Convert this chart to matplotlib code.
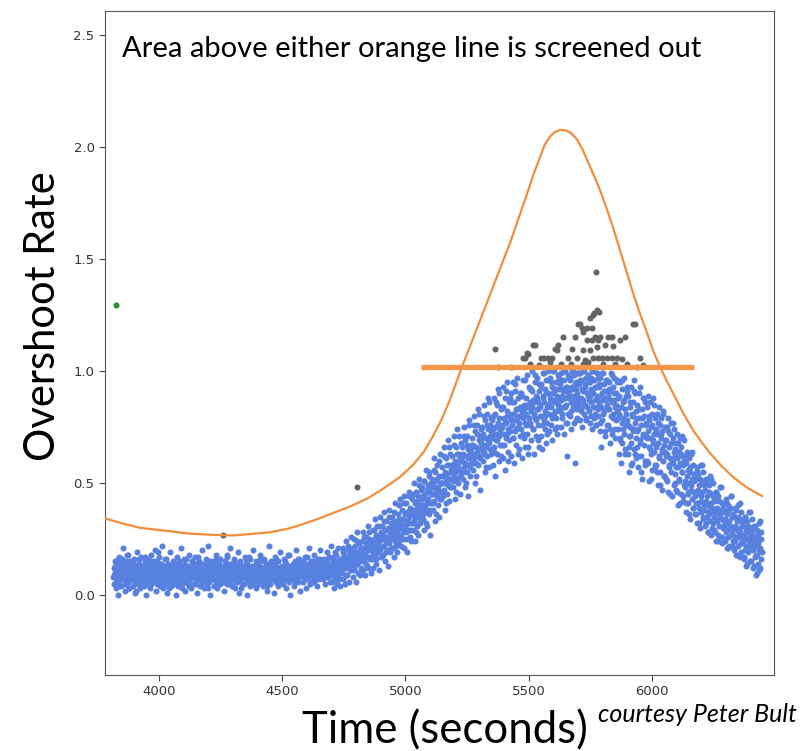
import numpy as np
import matplotlib.pyplot as plt

# overshoot rate (x100), even-second samples, split by phase of the run
flat_rate = [
    8, 12, 5, 15, 10, 3, 9, 14, 7, 11, 0, 17, 6, 10, 13, 4, 9, 16, 8, 12,
    21, 7, 11, 2, 14, 9, 5, 12, 18, 6, 10, 13, 3, 8, 15, 11, 7, 9, 14, 4,
    10, 16, 6, 12, 1, 9, 13, 7, 19, 11, 5, 8, 14, 10, 3, 12, 17, 6, 9, 11,
    13, 4, 10, 15, 8, 0, 12, 6, 9, 16, 11, 7, 14, 3, 10, 18, 5, 12, 8, 13,
    6, 11, 9, 20, 7, 13, 2, 10, 15, 5, 12, 8, 17, 9, 4, 11, 14, 6, 10, 22,
    9, 3, 13, 7, 11, 16, 5, 10, 12, 1, 8, 14, 6, 11, 19, 9, 4, 13, 10, 7,
    12, 15, 8, 5, 10, 13, 0, 9, 17, 7, 11, 4, 14, 10, 6, 12, 8, 21, 11, 3,
    10, 7, 14, 9, 2, 12, 16, 6, 11, 8, 13, 5, 10, 18, 7, 12, 3, 9, 15, 11,
    5, 13, 10, 8, 17, 11, 6, 14, 1, 9, 12, 7, 15, 10, 4, 13, 8, 11, 20, 6,
    14, 9, 3, 12, 10, 7, 16, 11, 5, 13, 8, 22, 10, 6, 12, 0, 9, 14, 11, 7,
    8, 12, 15, 4, 10, 13, 9, 6, 18, 11, 3, 14, 7, 10, 12, 5, 16, 9, 11, 8,
    11, 6, 13, 9, 2, 15, 10, 7, 12, 17, 5, 9, 14, 8, 11, 21, 6, 10, 13, 4,
    9, 14, 7, 11, 16, 3, 12, 8, 10, 6, 13, 19, 9, 1, 11, 15, 7, 12, 10, 5,
    13, 8, 10, 5, 12, 9, 17, 6, 11, 14, 0, 10, 7, 13, 9, 4, 16, 11, 8, 12,
    6, 11, 20, 9, 13, 7, 10, 3, 15, 12, 8, 11, 5, 14, 10, 18, 9, 6, 12, 10,
    10, 4, 12, 16, 8, 11, 6, 13, 9, 2, 14, 10, 7, 12, 22, 9, 5, 11, 15, 8,
    12, 9, 7, 14, 10, 1, 11, 17, 6, 13, 9, 10, 4, 15, 8, 12, 11, 19, 7, 10,
    8, 13, 11, 5, 16, 10, 9, 12, 3, 14, 7, 11, 18, 10, 6, 13, 9, 0, 12, 11,
    11, 7, 14, 10, 12, 4, 15, 9, 11, 20, 8, 13, 6, 10, 16, 12, 2, 11, 14, 9,
    13, 10, 6, 15, 11, 9, 17, 7, 12, 3, 14, 10, 12, 8, 21, 11, 5, 13, 10, 15,
    10, 14, 8, 12, 18, 6, 11, 13, 9, 15, 4, 12, 10, 16, 7, 13, 11, 20, 9, 12,
    14, 9, 12, 7, 16, 11, 13, 5, 15, 10, 19, 12, 8, 14, 11, 17, 6, 13, 22, 12,
]
rise_rate = [
    12, 6, 17, 9, 14, 3, 11, 19, 8, 13, 5, 15, 10, 21, 7, 12, 16, 4, 11, 14,
    16, 10, 21, 7, 14, 18, 5, 12, 24, 15, 9, 17, 13, 20, 6, 15, 11, 19, 14, 26,
    13, 20, 8, 17, 25, 11, 15, 22, 6, 18, 14, 28, 10, 19, 16, 23, 9, 17, 21, 12,
    19, 24, 11, 28, 15, 21, 9, 18, 26, 14, 22, 17, 31, 12, 20, 25, 16, 23, 10, 21,
    22, 16, 29, 12, 25, 20, 34, 18, 27, 14, 23, 31, 19, 26, 11, 24, 21, 35, 17, 28,
    25, 31, 18, 27, 37, 22, 15, 29, 24, 33, 20, 26, 13, 30, 23, 38, 27, 19, 32, 25,
    28, 35, 21, 30, 17, 33, 26, 41, 23, 31, 29, 19, 36, 27, 34, 24, 43, 30, 22, 32,
    30, 38, 25, 34, 44, 21, 36, 31, 28, 41, 33, 19, 37, 29, 46, 35, 26, 39, 32, 24,
    36, 43, 29, 38, 50, 33, 24, 41, 37, 46, 31, 39, 27, 44, 35, 52, 40, 32, 47, 38,
    40, 48, 34, 44, 29, 51, 39, 45, 56, 37, 42, 31, 49, 43, 36, 53, 46, 27, 41, 50,
    45, 52, 38, 49, 61, 42, 55, 33, 47, 51, 44, 58, 40, 48, 35, 53, 46, 63, 43, 50,
    50, 57, 44, 53, 66, 47, 38, 55, 51, 61, 45, 54, 69, 49, 58, 42, 52, 63, 56, 48,
    55, 62, 48, 58, 71, 53, 60, 43, 57, 66, 52, 74, 59, 50, 63, 56, 45, 61, 68, 54,
    60, 66, 52, 63, 75, 57, 69, 48, 62, 58, 71, 55, 65, 44, 61, 78, 64, 53, 67, 59,
    63, 70, 56, 67, 80, 61, 73, 50, 66, 59, 76, 64, 83, 58, 69, 62, 47, 71, 65, 74,
    67, 75, 60, 72, 85, 64, 78, 55, 70, 66, 81, 62, 74, 88, 68, 57, 76, 71, 63, 79,
]
peak_rate = [
    70, 78, 58, 74, 88, 66, 81, 53, 72, 69, 85, 63, 76, 92, 71, 60, 79, 74, 67, 83,
    84, 67, 75, 93, 61, 79, 72, 88, 56, 77, 70, 82, 95, 64, 74, 86, 69, 80, 73, 90,
    62, 81, 76, 95, 70, 86, 59, 78, 91, 73, 83, 67, 79, 97, 75, 88, 65, 80, 71, 84,
    90, 74, 82, 61, 79, 96, 70, 85, 77, 66, 88, 81, 98, 72, 84, 63, 79, 93, 76, 86,
    77, 92, 69, 84, 100, 74, 87, 63, 81, 95, 79, 89, 71, 83, 97, 76, 86, 66, 91, 80,
    85, 71, 94, 80, 65, 89, 99, 78, 86, 74, 92, 82, 68, 96, 84, 77, 90, 100, 81, 73,
    88, 97, 76, 84, 93, 69, 87, 100, 81, 91, 74, 86, 95, 79, 89, 72, 98, 85, 83, 92,
    82, 94, 87, 75, 99, 89, 79, 92, 84, 96, 72, 88, 100, 85, 77, 93, 62, 90, 81, 97,
    91, 80, 96, 86, 74, 93, 100, 84, 89, 77, 98, 87, 59, 92, 83, 95, 79, 88, 99, 85,
    86, 94, 78, 99, 88, 83, 96, 75, 91, 87, 100, 81, 93, 85, 97, 79, 90, 84, 98, 89,
    95, 82, 89, 77, 97, 86, 92, 74, 100, 84, 90, 79, 96, 87, 81, 93, 76, 88, 99, 83,
    80, 93, 86, 73, 97, 84, 66, 90, 78, 99, 87, 82, 94, 71, 88, 96, 83, 76, 91, 85,
    89, 76, 95, 83, 68, 91, 80, 99, 86, 72, 93, 81, 87, 97, 74, 84, 90, 78, 96, 82,
    74, 88, 63, 81, 95, 70, 84, 59, 77, 92, 68, 86, 79, 97, 72, 83, 65, 89, 76, 91,
]
fall_rate = [
    78, 63, 89, 71, 55, 84, 75, 93, 68, 80, 59, 86, 73, 96, 65, 77, 90, 70, 82, 61,
    66, 85, 74, 57, 90, 79, 69, 93, 62, 76, 83, 52, 72, 88, 67, 80, 58, 86, 71, 77,
    84, 60, 73, 89, 66, 78, 51, 70, 86, 63, 75, 81, 56, 69, 88, 72, 64, 79, 58, 74,
    58, 72, 81, 49, 68, 84, 62, 76, 55, 70, 79, 65, 47, 73, 60, 82, 67, 53, 75, 64,
    69, 52, 75, 63, 79, 46, 66, 58, 72, 61, 77, 55, 68, 44, 70, 59, 74, 64, 50, 62,
    54, 68, 47, 61, 72, 57, 40, 64, 51, 70, 59, 45, 66, 55, 62, 42, 58, 69, 49, 60,
    48, 59, 37, 53, 64, 45, 56, 41, 61, 50, 34, 55, 47, 63, 52, 43, 58, 39, 51, 46,
    44, 36, 52, 41, 57, 32, 47, 54, 39, 49, 30, 45, 58, 42, 37, 51, 46, 34, 55, 40,
    38, 47, 31, 42, 52, 35, 44, 28, 40, 49, 36, 53, 33, 41, 27, 45, 39, 50, 32, 43,
    35, 29, 42, 37, 24, 46, 33, 39, 27, 44, 31, 36, 48, 26, 38, 34, 41, 23, 37, 30,
    31, 38, 25, 34, 43, 28, 21, 36, 32, 40, 26, 33, 22, 39, 30, 44, 27, 35, 29, 24,
    27, 35, 20, 31, 24, 38, 18, 29, 33, 22, 40, 26, 30, 17, 34, 28, 23, 37, 25, 32,
    23, 31, 16, 27, 35, 20, 29, 13, 25, 33, 19, 28, 37, 22, 26, 15, 30, 24, 21, 34,
    20, 27, 12, 24, 31, 17, 22, 9, 26, 18, 29, 14, 23, 32, 11, 21, 25, 16, 28, 19,
]

# interleaved odd-second samples (x100), same phases
flat_rate_odd = [
    9, 13, 6, 11, 16, 4, 10, 14, 7, 12, 11, 5, 15, 8, 12, 18, 3, 10, 13, 9,
    7, 14, 10, 2, 12, 9, 16, 6, 11, 13, 12, 8, 17, 10, 5, 13, 9, 15, 11, 6,
    10, 15, 7, 12, 9, 19, 6, 11, 14, 8, 13, 6, 11, 16, 8, 10, 3, 12, 9, 14,
    8, 12, 9, 14, 11, 6, 15, 10, 13, 5, 11, 16, 7, 10, 13, 9, 4, 12, 8, 15,
    14, 8, 12, 5, 10, 17, 11, 7, 13, 9, 6, 11, 14, 9, 12, 3, 10, 15, 8, 12,
    10, 13, 8, 16, 7, 11, 14, 6, 12, 9, 12, 7, 10, 13, 18, 9, 5, 11, 14, 10,
    9, 15, 11, 6, 12, 14, 8, 10, 3, 13, 11, 8, 13, 10, 15, 7, 12, 17, 9, 6,
    13, 10, 5, 12, 9, 14, 11, 7, 16, 10, 8, 12, 15, 9, 11, 4, 13, 10, 12, 14,
    10, 14, 7, 13, 16, 10, 8, 12, 6, 11, 12, 9, 11, 15, 7, 13, 10, 18, 9, 12,
    9, 13, 10, 6, 14, 11, 16, 8, 12, 10, 14, 11, 8, 12, 10, 17, 9, 13, 6, 11,
    11, 15, 9, 13, 7, 12, 14, 10, 16, 9, 13, 10, 14, 8, 12, 15, 11, 17, 10, 13,
]
rise_rate_odd = [
    10, 15, 7, 13, 18, 11, 8, 14, 12, 16, 14, 19, 12, 17, 9, 15, 22, 13, 18, 11,
    16, 21, 12, 19, 14, 24, 17, 10, 20, 15, 21, 16, 26, 18, 23, 13, 20, 28, 17, 22,
    24, 19, 29, 21, 16, 26, 22, 31, 20, 25, 27, 22, 33, 25, 19, 29, 24, 35, 28, 21,
    30, 25, 37, 28, 22, 33, 27, 40, 31, 26, 34, 28, 41, 31, 25, 37, 32, 44, 29, 36,
    38, 32, 45, 35, 28, 42, 37, 49, 33, 40, 43, 36, 51, 40, 32, 47, 41, 55, 38, 45,
    48, 41, 56, 45, 36, 52, 47, 60, 43, 50, 53, 46, 62, 50, 41, 58, 52, 66, 48, 55,
    58, 51, 67, 55, 46, 63, 57, 71, 53, 60, 62, 55, 71, 59, 50, 67, 61, 76, 57, 64,
    66, 59, 76, 63, 53, 72, 65, 81, 61, 68, 70, 63, 80, 67, 57, 76, 69, 86, 65, 73,
]
peak_rate_odd = [
    71, 80, 64, 75, 86, 69, 77, 90, 73, 62, 76, 84, 67, 78, 91, 72, 80, 60, 74, 88,
    78, 86, 70, 81, 94, 74, 83, 63, 77, 90, 80, 89, 72, 83, 96, 76, 85, 66, 79, 92,
    82, 91, 74, 86, 98, 78, 88, 69, 83, 94, 84, 93, 76, 88, 99, 80, 90, 72, 85, 96,
    86, 95, 79, 90, 100, 82, 92, 75, 87, 97, 87, 96, 81, 91, 100, 84, 93, 77, 89, 98,
    88, 97, 82, 92, 100, 85, 94, 78, 90, 99, 88, 96, 82, 92, 100, 85, 94, 78, 90, 98,
    87, 95, 80, 91, 100, 84, 93, 76, 89, 97, 85, 94, 77, 89, 99, 81, 91, 73, 87, 96,
    83, 92, 74, 87, 98, 79, 90, 70, 85, 95, 79, 89, 69, 84, 96, 74, 87, 63, 81, 93,
]
fall_rate_odd = [
    76, 66, 86, 71, 58, 81, 74, 91, 63, 79, 73, 62, 83, 68, 55, 79, 71, 88, 60, 76,
    70, 59, 80, 65, 52, 76, 68, 85, 57, 73, 66, 55, 77, 61, 49, 72, 64, 81, 53, 69,
    62, 51, 73, 57, 45, 68, 60, 77, 49, 65, 57, 46, 68, 52, 41, 63, 55, 71, 44, 60,
    51, 41, 62, 46, 36, 57, 49, 64, 39, 54, 46, 36, 56, 41, 32, 52, 44, 58, 35, 49,
    41, 32, 50, 37, 28, 46, 39, 52, 30, 44, 37, 28, 46, 33, 24, 42, 35, 48, 26, 40,
    33, 24, 42, 29, 21, 38, 31, 44, 22, 36, 30, 21, 39, 26, 18, 35, 28, 41, 19, 33,
    26, 17, 35, 22, 14, 31, 24, 37, 15, 29, 22, 13, 31, 18, 10, 27, 20, 33, 12, 25,
]
# start / end time (s) of each phase
phase_spans = [(3815, 4698), (4700, 5348), (5350, 5898), (5900, 6445)]

# samples screened out (above one of the limits)
screened_t = [4258, 4803, 5363, 5375, 5477, 5485, 5493, 5497, 5517, 5525, 5548,
              5560, 5578, 5586, 5594, 5606, 5614, 5619, 5639, 5659, 5675, 5688,
              5696, 5700, 5708, 5716, 5720, 5720, 5728, 5736, 5736, 5741, 5749,
              5749, 5757, 5757, 5761, 5761, 5765, 5769, 5773, 5777, 5777, 5781,
              5781, 5784, 5789, 5797, 5810, 5817, 5821, 5838, 5838, 5842, 5858,
              5870, 5878, 5891, 5923, 5931, 5951, 5430, 5505, 5540, 5630, 5670,
              5720, 5800, 5850, 5900, 5940, 5965]
screened_rate = [0.268, 0.482, 1.10, 1.02, 1.06, 1.06, 1.08, 1.075, 1.115, 1.115, 1.06,
                 1.06, 1.06, 1.04, 1.06, 1.10, 1.095, 1.115, 1.15, 1.06, 1.10, 1.15,
                 1.06, 1.21, 1.21, 1.19, 1.175, 1.095, 1.05, 1.19, 1.14, 1.04, 1.235,
                 1.095, 1.19, 1.14, 1.25, 1.06, 1.26, 1.15, 1.44, 1.27, 1.107, 1.14,
                 1.06, 1.265, 1.15, 1.06, 1.116, 1.06, 1.15, 1.15, 1.06, 1.11, 1.06,
                 1.14, 1.055, 1.15, 1.21, 1.21, 1.06, 1.02, 1.03, 1.025, 1.03, 1.03,
                 1.03, 1.03, 1.03, 1.03, 1.02, 1.025]

# start-up sample
first_t, first_rate = 3826, 1.295

# time-dependent screening limit
limit_t = [3781, 3850, 3923, 4033, 4126, 4227, 4300, 4369, 4450, 4519, 4572,
           4653, 4706, 4775, 4844, 4910, 4978, 5030, 5075, 5112, 5145, 5180,
           5229, 5290, 5355, 5424, 5493, 5520, 5546, 5565, 5585, 5605, 5627,
           5650, 5672, 5695, 5720, 5749, 5785, 5818, 5845, 5870, 5895, 5919,
           5950, 5980, 6005, 6033, 6060, 6085, 6125, 6166, 6200, 6235, 6280,
           6328, 6385, 6446]
limit_rate = [0.342, 0.32, 0.30, 0.286, 0.274, 0.268, 0.266, 0.272, 0.28, 0.295, 0.312,
              0.343, 0.366, 0.395, 0.43, 0.475, 0.527, 0.58, 0.64, 0.71, 0.78, 0.87,
              1.018, 1.19, 1.375, 1.571, 1.79, 1.88, 1.955, 2.01, 2.045, 2.066, 2.076,
              2.074, 2.062, 2.035, 1.985, 1.911, 1.82, 1.719, 1.63, 1.54, 1.45, 1.362,
              1.26, 1.17, 1.09, 1.018, 0.955, 0.902, 0.815, 0.737, 0.684, 0.634, 0.578,
              0.527, 0.48, 0.442]

# fixed screening limit
fixed_level = 1.02
fixed_span = (5063, 6170)

BLUE = '#5880df'
GREY = '#646464'
ORANGE = '#f28e3a'

fig = plt.figure(figsize=(8.05, 7.51), dpi=100)
ax = fig.add_axes([0.1304, 0.1012, 0.8311, 0.8842])

phases = zip([flat_rate, rise_rate, peak_rate, fall_rate],
             [flat_rate_odd, rise_rate_odd, peak_rate_odd, fall_rate_odd],
             phase_spans)
for even, odd, (t0, t1) in phases:
    ax.scatter(np.linspace(t0, t1, len(even)), np.array(even) / 100,
               s=19, color=BLUE, linewidths=0, zorder=2)
    ax.scatter(np.linspace(t0 + 1, t1 - 1, len(odd)), np.array(odd) / 100,
               s=19, color=BLUE, linewidths=0, zorder=2)

ax.scatter(screened_t, screened_rate, s=19, color=GREY, linewidths=0, zorder=2)
ax.scatter([first_t], [first_rate], s=19, color='#2e8b2e', linewidths=0, zorder=2)

ax.plot(limit_t, limit_rate, color=ORANGE, lw=1.6, zorder=3)
ax.plot(fixed_span, [fixed_level, fixed_level], color='#f4954a', lw=3.8, zorder=3,
        solid_capstyle='butt')

ax.set_xlim(3781, 6495)
ax.set_ylim(-0.357, 2.607)
ax.set_xticks([4000, 4500, 5000, 5500, 6000])
ax.set_yticks([0.0, 0.5, 1.0, 1.5, 2.0, 2.5])
ax.yaxis.set_major_formatter(plt.FormatStrFormatter('%.1f'))
ax.tick_params(labelsize=9.5, labelcolor='#333333', color='#444444', length=4)
for sp in ax.spines.values():
    sp.set_color('#555555')

fig.text(0.1516, 0.9241, 'Area above either orange line is screened out',
         fontsize=21, family='Lato', va='baseline', ha='left')
fig.text(0.0534, 0.579, 'Overshoot Rate', fontsize=30, family='Lato',
         rotation=90, ha='center', va='center')
fig.text(0.553, 0.0107, 'Time (seconds)', fontsize=31.5, family='Lato',
         ha='center', va='baseline')
fig.text(0.743, 0.0386, 'courtesy Peter Bult', fontsize=18, family='Lato',
         style='italic', ha='left', va='baseline')

fig.savefig('out.png', dpi=100)
